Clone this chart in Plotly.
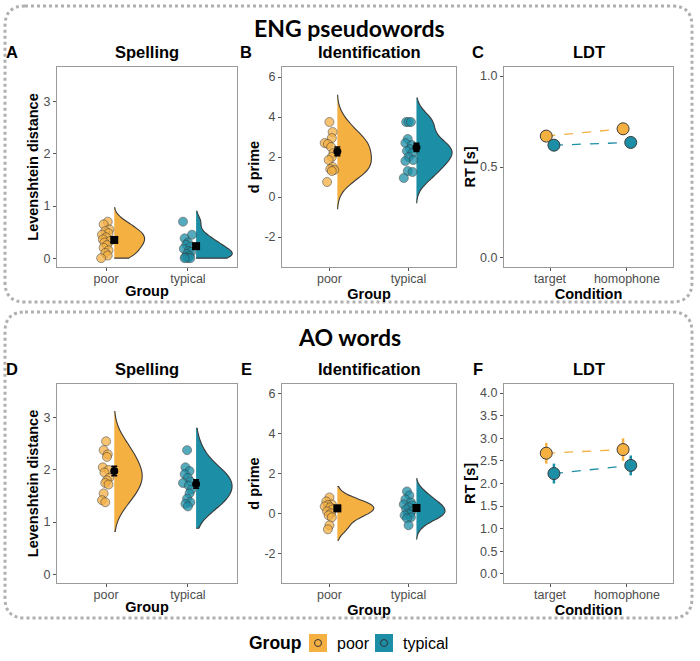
import plotly.graph_objects as go

W, H = 700, 661
ORANGE = '#F5B042'
TEAL = '#1C8FA7'
FONT = 'Liberation Sans, Arial, sans-serif'

groups = ['poor', 'typical']
conditions = ['target', 'homophone']

# ---------- Panel A: ENG pseudowords, Spelling (Levenshtein distance)
a_poor = [0.70, 0.65, 0.55, 0.52, 0.48, 0.45, 0.40, 0.36, 0.33, 0.30, 0.25, 0.20, 0.15, 0.10, 0.05, 0.00]
a_poor_jit = [0.02, -0.03, 0.04, -0.01, 0.03, -0.05, 0.0, -0.04, 0.05, -0.02, 0.01, -0.03, 0.03, -0.01, 0.02, -0.06]
a_typ = [0.70, 0.45, 0.38, 0.30, 0.26, 0.22, 0.18, 0.14, 0.12, 0.08, 0.04, 0.02, 0.0, 0.0, 0.0]
a_typ_jit = [-0.06, 0.05, -0.04, 0.0, -0.02, 0.03, -0.05, 0.01, 0.04, -0.01, 0.02, -0.03, 0.0, 0.03, -0.04]
a_mean = [0.35, 0.23]
a_se = [0.05, 0.05]
a_span = [[0.0, 0.97], [0.0, 0.90]]
a_bw = [0.12, 0.11]
a_width = [0.37, 0.44]

# ---------- Panel B: ENG pseudowords, Identification (d prime)
b_poor = [3.75, 3.25, 2.95, 2.70, 2.65, 2.50, 2.20, 2.00, 1.85, 1.50, 1.40, 1.35, 1.30, 0.75]
b_poor_jit = [0.0, 0.04, 0.03, -0.06, -0.02, 0.02, 0.05, 0.03, -0.01, 0.04, 0.01, 0.06, 0.03, -0.03]
b_typ = [3.75, 3.75, 3.75, 2.90, 2.70, 2.60, 2.40, 2.30, 2.20, 2.00, 1.85, 1.80, 1.30, 1.25, 0.95]
b_typ_jit = [-0.03, 0.0, 0.03, -0.01, -0.04, 0.04, 0.02, -0.02, 0.05, 0.0, 0.06, -0.04, -0.01, 0.05, -0.06]
b_mean = [2.28, 2.48]
b_se = [0.22, 0.20]
b_span = [[-0.6, 5.1], [-0.3, 4.95]]
b_bw = [0.55, 0.5]
b_width = [0.43, 0.45]

# ---------- Panel C: ENG pseudowords, LDT (RT)
c_poor = [0.67, 0.71]
c_poor_err = [0.025, 0.032]
c_typ = [0.62, 0.635]
c_typ_err = [0.015, 0.015]

# ---------- Panel D: AO words, Spelling
d_poor = [2.55, 2.38, 2.30, 2.25, 2.05, 2.00, 1.95, 1.85, 1.80, 1.75, 1.72, 1.55, 1.42, 1.38]
d_poor_jit = [0.0, -0.03, 0.02, 0.01, -0.04, 0.03, -0.02, 0.04, 0.01, -0.01, 0.03, -0.03, -0.05, -0.01]
d_typ = [2.38, 2.05, 1.98, 1.92, 1.85, 1.78, 1.75, 1.70, 1.62, 1.55, 1.45, 1.38, 1.35, 1.30]
d_typ_jit = [-0.01, -0.03, 0.02, -0.04, 0.0, 0.03, -0.06, 0.01, 0.04, 0.02, -0.01, 0.03, -0.03, 0.0]
d_mean = [1.98, 1.73]
d_se = [0.09, 0.08]
d_span = [[0.82, 3.12], [0.88, 2.80]]
d_bw = [0.28, 0.25]
d_width = [0.34, 0.44]

# ---------- Panel E: AO words, Identification
e_poor = [0.80, 0.60, 0.45, 0.42, 0.35, 0.30, 0.20, 0.10, 0.00, -0.10, -0.20, -0.60, -0.80]
e_poor_jit = [0.0, -0.04, 0.03, -0.02, -0.06, 0.01, 0.04, -0.03, 0.02, -0.01, 0.03, 0.0, -0.02]
e_typ = [1.10, 0.90, 0.70, 0.55, 0.45, 0.40, 0.30, 0.20, 0.10, 0.00, -0.05, -0.10, -0.20, -0.25, -0.60]
e_typ_jit = [-0.02, 0.01, -0.04, 0.03, -0.06, 0.05, 0.0, -0.03, 0.04, -0.01, 0.02, -0.05, 0.03, -0.02, 0.0]
e_mean = [0.25, 0.27]
e_se = [0.14, 0.15]
e_span = [[-1.35, 1.35], [-1.3, 1.75]]
e_bw = [0.3, 0.3]
e_width = [0.46, 0.36]

# ---------- Panel F: AO words, LDT
f_poor = [2.67, 2.75]
f_poor_err = [0.23, 0.25]
f_typ = [2.22, 2.40]
f_typ_err = [0.22, 0.22]

# ---------- layout helpers (pixel boxes of plot areas)
def fx(x):
    return x / W

def fy(y):
    return 1 - y / H

boxes = {
    1: ((57, 237), (67, 267)),
    2: ((282, 456), (67, 267)),
    3: ((504, 673), (67, 267)),
    4: ((57, 237), (384, 583)),
    5: ((282, 456), (384, 583)),
    6: ((504, 673), (384, 583)),
}

fig = go.Figure()


def ax(n):
    return ('x' if n == 1 else 'x%d' % n), ('y' if n == 1 else 'y%d' % n)


def raincloud(n, vals_list, jits, means, ses, spans, bws, widths, mean_symbol):
    xa, ya = ax(n)
    cols = [ORANGE, TEAL]
    for i in range(2):
        fig.add_trace(go.Violin(
            x0=i + 1 + 0.1, y=vals_list[i], side='positive', width=2 * widths[i],
            span=spans[i], spanmode='manual', bandwidth=bws[i],
            fillcolor=cols[i], opacity=1, line=dict(color='#3a3a3a', width=1.1),
            points=False, showlegend=False, xaxis=xa, yaxis=ya, hoverinfo='skip'))
    for i in range(2):
        fig.add_trace(go.Scatter(
            x=[i + 1 + j for j in jits[i]], y=vals_list[i], mode='markers',
            marker=dict(size=9, color=cols[i], opacity=0.75,
                        line=dict(color='#3a3a3a', width=0.7)),
            showlegend=False, xaxis=xa, yaxis=ya, hoverinfo='skip'))
    fig.add_trace(go.Scatter(
        x=[1.1, 2.1], y=means, mode='markers',
        marker=dict(size=8, color='black', symbol=mean_symbol),
        error_y=dict(type='data', array=ses, color='black', thickness=1.6, width=3),
        showlegend=False, xaxis=xa, yaxis=ya, hoverinfo='skip'))


def ldt(n, poor, poor_err, typ, typ_err):
    xa, ya = ax(n)
    for vals, errs, col, off in [(poor, poor_err, ORANGE, -0.05), (typ, typ_err, TEAL, 0.05)]:
        fig.add_trace(go.Scatter(
            x=[k + 1 + off for k in range(len(conditions))], y=vals, mode='lines+markers',
            line=dict(color=col, width=1.3, dash='dash'),
            marker=dict(size=12, color=col, line=dict(color='#3a3a3a', width=1)),
            error_y=dict(type='data', array=errs, color=col, thickness=2.5, width=0),
            showlegend=False, xaxis=xa, yaxis=ya, hoverinfo='skip'))


raincloud(1, [a_poor, a_typ], [a_poor_jit, a_typ_jit], a_mean, a_se, a_span, a_bw, a_width, 'square')
raincloud(2, [b_poor, b_typ], [b_poor_jit, b_typ_jit], b_mean, b_se, b_span, b_bw, b_width, 'circle')
ldt(3, c_poor, c_poor_err, c_typ, c_typ_err)
raincloud(4, [d_poor, d_typ], [d_poor_jit, d_typ_jit], d_mean, d_se, d_span, d_bw, d_width, 'circle')
raincloud(5, [e_poor, e_typ], [e_poor_jit, e_typ_jit], e_mean, e_se, e_span, e_bw, e_width, 'square')
ldt(6, f_poor, f_poor_err, f_typ, f_typ_err)

axis_common = dict(showline=True, mirror=True, linecolor='#9a9a9a', linewidth=1,
                   ticks='outside', ticklen=3, tickcolor='#555555', tickwidth=1,
                   showgrid=False, zeroline=False,
                   tickfont=dict(family=FONT, size=12.5, color='#4d4d4d'))
title_font = dict(family=FONT, size=14.5, color='black', weight='bold')

yinfo = {
    1: ([-0.17, 3.67], [0, 1, 2, 3], ['0', '1', '2', '3'], 'Levenshtein distance'),
    2: ([-3.5, 6.5], [-2, 0, 2, 4, 6], ['-2', '0', '2', '4', '6'], 'd prime'),
    3: ([-0.05, 1.05], [0, 0.5, 1.0], ['0.0', '0.5', '1.0'], 'RT [s]'),
    4: ([-0.17, 3.65], [0, 1, 2, 3], ['0', '1', '2', '3'], 'Levenshtein distance'),
    5: ([-3.5, 6.5], [-2, 0, 2, 4, 6], ['-2', '0', '2', '4', '6'], 'd prime'),
    6: ([-0.2, 4.2], [0, 0.5, 1, 1.5, 2, 2.5, 3, 3.5, 4],
        ['0.0', '0.5', '1.0', '1.5', '2.0', '2.5', '3.0', '3.5', '4.0'], 'RT [s]'),
}

layout = {}
for n, ((x0, x1), (y0, y1)) in boxes.items():
    xname = 'xaxis' if n == 1 else 'xaxis%d' % n
    yname = 'yaxis' if n == 1 else 'yaxis%d' % n
    xa, ya = ax(n)
    is_ldt = n in (3, 6)
    layout[xname] = dict(axis_common, domain=[fx(x0), fx(x1)], anchor=ya,
                         range=[0.4, 2.6], tickvals=[1, 2], ticklabelstandoff=-3,
                         ticktext=conditions if is_ldt else groups,
                         title=dict(text='Condition' if is_ldt else 'Group', font=title_font, standoff=0))
    rng, tv, tt, ttl = yinfo[n]
    layout[yname] = dict(axis_common, domain=[fy(y1), fy(y0)], anchor=xa,
                         range=rng, tickvals=tv, ticktext=tt,
                         title=dict(text=ttl, font=title_font, standoff=1))

annotations = []


def txt(x, y, s, size, bold=True, family=FONT, xanchor='center', color='black'):
    annotations.append(dict(x=fx(x), y=fy(y), xref='paper', yref='paper', text=s,
                            showarrow=False, xanchor=xanchor, yanchor='middle',
                            font=dict(family=family, size=size, color=color,
                                      weight='bold' if bold else 'normal')))


txt(349, 28, 'ENG pseudowords', 23, family='Lato, sans-serif')
txt(349, 337, 'AO words', 23, family='Lato, sans-serif')
panel_titles = ['Spelling', 'Identification', 'LDT']
letters = ['A', 'B', 'C', 'D', 'E', 'F']
for row, yy in enumerate([52, 369]):
    for col in range(3):
        (x0, x1), _ = boxes[row * 3 + col + 1]
        txt((x0 + x1) / 2, yy, panel_titles[col], 16.5)
    for col, lx in enumerate([12, 246, 478]):
        txt(lx, yy, letters[row * 3 + col], 16.5)

# legend
txt(275, 643, 'Group', 17.5)
txt(335, 643, 'poor', 16, bold=False, xanchor='left')
txt(401, 643, 'typical', 16, bold=False, xanchor='left')

shapes = []


def rounded_box(x0, y0, x1, y1, r):
    pts = [
        ('M', x0 + r, y0), ('L', x1 - r, y0), ('Q', x1, y0, x1, y0 + r),
        ('L', x1, y1 - r), ('Q', x1, y1, x1 - r, y1), ('L', x0 + r, y1),
        ('Q', x0, y1, x0, y1 - r), ('L', x0, y0 + r), ('Q', x0, y0, x0 + r, y0),
    ]
    parts = []
    for p in pts:
        cmd = p[0]
        coords = p[1:]
        s = ' '.join('%.5f,%.5f' % (fx(coords[k]), fy(coords[k + 1])) for k in range(0, len(coords), 2))
        parts.append(cmd + ' ' + s)
    shapes.append(dict(type='path', path=' '.join(parts) + ' Z', xref='paper', yref='paper',
                       line=dict(color='#b0b0b0', width=3, dash='dot')))


rounded_box(5, 6, 692, 302, 20)
rounded_box(5, 312, 692, 618, 20)

for cx, col in [(318, ORANGE), (384, TEAL)]:
    shapes.append(dict(type='rect', xref='paper', yref='paper', x0=fx(cx - 9), x1=fx(cx + 9),
                       y0=fy(652), y1=fy(634), fillcolor=col, line=dict(width=0)))
    shapes.append(dict(type='circle', xref='paper', yref='paper', x0=fx(cx - 3.5), x1=fx(cx + 3.5),
                       y0=fy(646.5), y1=fy(639.5), fillcolor=col, line=dict(color='#333333', width=1)))

fig.update_layout(width=W, height=H, margin=dict(l=0, r=0, t=0, b=0),
                  paper_bgcolor='white', plot_bgcolor='white', showlegend=False,
                  annotations=annotations, shapes=shapes, violinmode='overlay',
                  font=dict(family=FONT), **layout)

fig.write_html('out.html')
